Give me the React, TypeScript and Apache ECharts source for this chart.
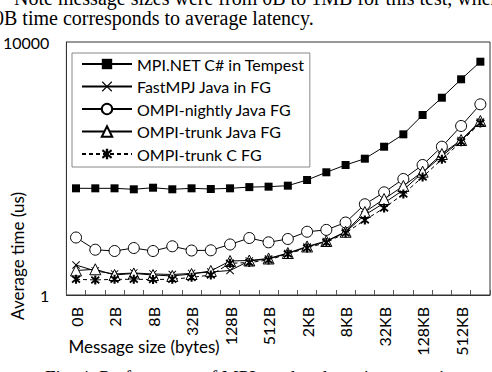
import React, { useEffect, useRef } from "react";
import * as echarts from "echarts";

const categories = ["0B","1B","2B","4B","8B","16B","32B","64B","128B","256B","512B","1KB","2KB","4KB","8KB","16KB","32KB","64KB","128KB","256KB","512KB","1MB"];

const mpiNetCSharp = [48.6,48.6,48.6,46.9,49.7,46.9,48.6,47.4,48.6,50.8,51.6,53.5,65.8,87.1,113.6,142.9,221,347,701,1316,2572,4882];
const fastMpjJava = [2.98,2.40,2.15,2.23,2.15,2.11,2.19,2.31,2.44,3.45,3.71,4.53,5.74,7.01,9.91,18.4,28.5,45.7,86.4,157.7,277,543];
const ompiNightlyJava = [8.11,5.20,4.96,5.53,4.96,5.89,5.05,5.09,6.29,7.96,6.81,7.68,10.0,10.7,14.0,27.2,42.0,68.2,113.6,221,470,1035];
const ompiTrunkJava = [2.44,2.55,2.07,2.19,2.07,2.00,2.15,2.40,3.45,3.51,3.78,4.61,5.85,7.14,10.0,20.5,32.9,52.9,89.0,169.5,282,564];
const ompiTrunkC = [1.77,1.73,1.77,1.77,1.76,1.77,1.90,2.07,3.17,3.26,3.58,4.45,5.53,6.76,9.56,15.3,23.7,39.5,73.4,139.8,265,524];

const seriesNames = ["MPI.NET C# in Tempest","FastMPJ Java in FG","OMPI-nightly Java FG","OMPI-trunk Java FG","OMPI-trunk C FG"];
const yTickLabels = [1, 10000];

const xSymbol = "path://M0,0.8L0.8,0L5,4.2L9.2,0L10,0.8L5.8,5L10,9.2L9.2,10L5,5.8L0.8,10L0,9.2L4.2,5Z";
const starSymbol = "path://M4,0H6V10H4Z M0.7,2.2L1.7,0.5L9.3,7.8L8.3,9.5Z M8.3,0.5L9.3,2.2L1.7,9.5L0.7,7.8Z";

const FONT = "Lato";

export default function App() {
  const ref = useRef<HTMLDivElement>(null);
  useEffect(() => {
    if (!ref.current) return;
    const chart = echarts.init(ref.current, undefined, { renderer: "svg" });
    const line = (name: string, data: number[], symbol: string, size: number, fill: string, dashed = false) => ({
      name,
      type: "line",
      data,
      symbol,
      symbolSize: size,
      showSymbol: true,
      lineStyle: { color: "#000", width: 1, type: dashed ? [4, 3] : "solid" },
      itemStyle: { color: fill, borderColor: "#000", borderWidth: fill === "#fff" ? 1 : 0 },
      emphasis: { disabled: true },
    });
    chart.setOption({
      animation: false,
      grid: { left: 59, right: 2, top: 42, bottom: 77, show: true, borderColor: "#333", borderWidth: 1, backgroundColor: "transparent" },
      legend: {
        orient: "vertical",
        left: 72,
        top: 53,
        padding: [3, 5, 5, 9],
        itemWidth: 50,
        itemHeight: 13,
        itemGap: 6.5,
        borderColor: "#888",
        borderWidth: 1,
        backgroundColor: "#fff",
        data: seriesNames,
        textStyle: { fontSize: 16, fontFamily: FONT, color: "#000" },
      },
      xAxis: {
        type: "category",
        data: categories,
        boundaryGap: true,
        axisLine: { lineStyle: { color: "#333" } },
        axisTick: { show: true, inside: true, length: 5, interval: 0, lineStyle: { color: "#555" } },
        axisLabel: { interval: 1, rotate: 90, margin: 12, fontSize: 16, fontFamily: FONT, color: "#000" },
        splitLine: { show: false },
      },
      yAxis: {
        type: "log",
        logBase: 10,
        min: 1,
        max: 10000,
        axisLine: { show: true, lineStyle: { color: "#333" } },
        axisTick: { show: false },
        splitLine: { show: false },
        axisLabel: {
          margin: 17,
          fontSize: 16,
          fontFamily: FONT,
          color: "#000",
          formatter: (v: number) => (yTickLabels.includes(Math.round(v)) ? String(Math.round(v)) : ""),
        },
      },
      graphic: [
        { type: "text", x: 14, y: -2, style: { text: "Note message sizes were from 0B to 1MB for this test, where", font: "20px 'Liberation Serif'", fill: "#000", textVerticalAlign: "middle" } },
        { type: "text", x: -6, y: 18, style: { text: "0B time corresponds to average latency.", font: "20px 'Liberation Serif'", fill: "#000", textVerticalAlign: "middle" } },
        { type: "text", x: 17, y: 256, rotation: Math.PI / 2, style: { text: "Average time (us)", font: "17px Lato", fill: "#000", textAlign: "center", textVerticalAlign: "middle" } },
        { type: "text", x: 144, y: 346, style: { text: "Message size (bytes)", font: "17px Lato", fill: "#000", textAlign: "center", textVerticalAlign: "middle" } },
        { type: "text", x: 45, y: 377, style: { text: "Fig. 4: Performance of MPI send and receive operations", font: "19px 'Liberation Serif'", fill: "#000", textVerticalAlign: "middle" } },
      ],
      series: [
        line(seriesNames[0], mpiNetCSharp, "rect", 8, "#000"),
        line(seriesNames[1], fastMpjJava, xSymbol, 8, "#000"),
        line(seriesNames[2], ompiNightlyJava, "circle", 11, "#fff"),
        line(seriesNames[3], ompiTrunkJava, "triangle", 11, "#fff"),
        line(seriesNames[4], ompiTrunkC, starSymbol, 9, "#000", true),
      ],
    });
    return () => chart.dispose();
  }, []);
  return <div ref={ref} style={{ position: "absolute", left: 0, top: 0, width: 492, height: 372, background: "#fff" }} />;
}
